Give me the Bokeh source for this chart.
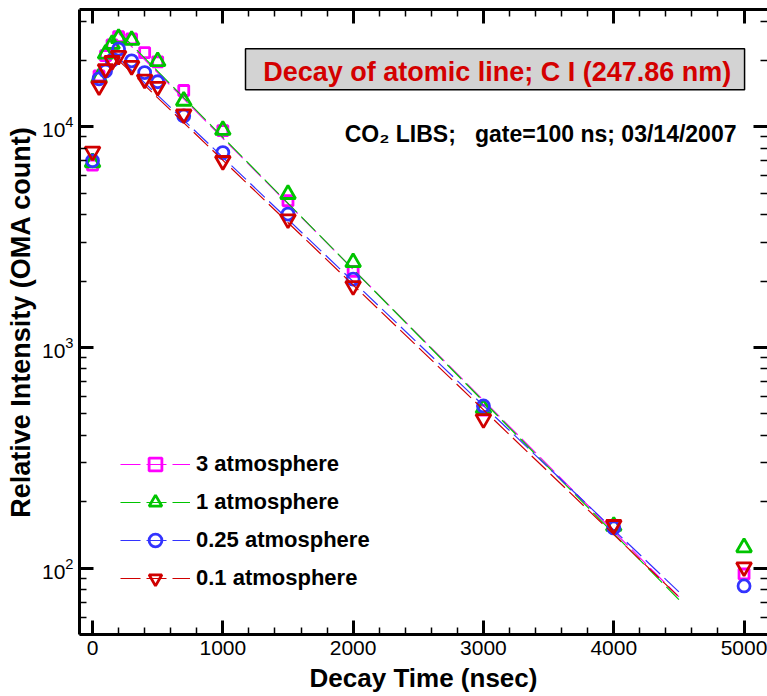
from bokeh.plotting import figure
from bokeh.models import (LinearAxis, LogAxis, SingleIntervalTicker, LogTicker, Range1d,
                          Legend, LegendItem, Label, BoxAnnotation, CustomJSTickFormatter)
from bokeh.embed import file_html
from bokeh.resources import INLINE

# ---------------- data ----------------
t_3atm = [0, 50, 100, 150, 200, 300, 400, 500, 700, 1000, 1500, 2000, 3000, 4000, 5000]
i_3atm = [6700, 17000, 21000, 23500, 25600, 25000, 21700, 19700, 14600, 9600, 4620, 2210, 520, 155, 94]

t_1atm = [0, 50, 100, 150, 200, 300, 500, 700, 1000, 1500, 2000, 3000, 4000, 5000]
i_1atm = [6890, 16700, 21400, 23700, 25200, 24700, 19800, 13100, 9660, 4950, 2430, 530, 155, 124]

t_025atm = [0, 50, 100, 150, 200, 300, 400, 500, 700, 1000, 1500, 2000, 3000, 4000, 5000]
i_025atm = [7010, 16500, 17900, 20000, 22500, 19900, 17600, 16000, 11200, 7640, 4020, 2040, 543, 152, 83]

t_01atm = [0, 50, 100, 150, 200, 300, 400, 500, 700, 1000, 1500, 2000, 3000, 4000, 5000]
i_01atm = [7730, 15300, 18300, 19900, 21000, 18900, 16400, 15200, 11400, 7010, 3810, 1900, 474, 157, 101]

# exponential fits (end points)
t_fit = [200, 4500]
fit_3atm = [26500, 74]
fit_1atm = [27000, 72]
fit_025atm = [20500, 78]
fit_01atm = [20000, 74]

labels = ["3 atmosphere", "1 atmosphere", "0.25 atmosphere", "0.1 atmosphere"]
colors = ["#ff00ff", "#00c400", "#3333ff", "#d00000"]
markers = ["square", "triangle", "circle", "inverted_triangle"]
msizes = [10, 15, 12, 15]

FONT = "Liberation Sans"

p = figure(width=767, height=696, output_backend="svg", toolbar_location=None,
           x_range=Range1d(-100, 5180), y_range=Range1d(50, 34000), y_axis_type="log",
           min_border_left=79, min_border_right=0, min_border_top=9, min_border_bottom=62)
p.outline_line_color = None
p.xgrid.visible = False
p.ygrid.visible = False
p.background_fill_color = "white"
p.border_fill_color = "white"

def style_axis(ax):
    ax.axis_line_width = 3
    ax.axis_line_color = "black"
    ax.major_tick_in = 14
    ax.major_tick_out = 0
    ax.minor_tick_in = 7
    ax.minor_tick_out = 0
    ax.major_tick_line_width = 3
    ax.minor_tick_line_width = 1.5
    ax.major_tick_line_color = "black"
    ax.minor_tick_line_color = "black"

def ticks_only(ax):
    ax.formatter = CustomJSTickFormatter(code="return ' ';")
    ax.major_label_text_font_size = "1px"
    ax.major_label_text_alpha = 0
    ax.major_label_standoff = 0

# bottom axis
xa = p.xaxis[0]
xa.ticker = SingleIntervalTicker(interval=1000, num_minor_ticks=5)
style_axis(xa)
xa.major_label_text_font = FONT
xa.major_label_text_font_size = "21px"
xa.major_label_text_color = "black"
xa.major_label_standoff = 6
xa.axis_label = "Decay Time (nsec)"
xa.axis_label_text_font = FONT
xa.axis_label_text_font_size = "26px"
xa.axis_label_text_font_style = "bold"
xa.axis_label_text_color = "black"
xa.axis_label_standoff = 5

# left axis
ya = p.yaxis[0]
ya.ticker = LogTicker(num_minor_ticks=10)
style_axis(ya)
ya.major_label_text_font = FONT
ya.major_label_text_font_size = "21px"
ya.major_label_text_color = "black"
ya.major_label_standoff = 6
ya.axis_label = "Relative Intensity (OMA count)"
ya.axis_label_text_font = FONT
ya.axis_label_text_font_size = "27px"
ya.axis_label_text_font_style = "bold"
ya.axis_label_text_color = "black"
ya.axis_label_standoff = 3

# top axis (ticks only)
top = LinearAxis(ticker=SingleIntervalTicker(interval=1000, num_minor_ticks=5))
style_axis(top)
ticks_only(top)
p.add_layout(top, "above")

# right axis (ticks only, line off-canvas)
right = LogAxis(ticker=LogTicker(num_minor_ticks=10))
style_axis(right)
right.axis_line_color = None
ticks_only(right)
p.add_layout(right, "right")

# title box
box = BoxAnnotation(left=1174, right=5004, top=22580, bottom=14720,
                    fill_color="#d3d3d3", fill_alpha=1.0,
                    line_color="black", line_alpha=1.0, line_width=1.5)
p.add_layout(box)
p.add_layout(Label(x=3106, y=17700, text="Decay of atomic line; C I (247.86 nm)",
                   text_align="center", text_baseline="alphabetic", text_color="#d40000",
                   text_font=FONT, text_font_size="27px", text_font_style="bold"))
p.add_layout(Label(x=1935, y=9300, text="CO\u2082 LIBS;\u00a0\u00a0\u00a0gate=100 ns; 03/14/2007",
                   text_align="left", text_baseline="alphabetic", text_color="black",
                   text_font=FONT, text_font_size="23px", text_font_style="bold"))

series = [(t_3atm, i_3atm, fit_3atm), (t_1atm, i_1atm, fit_1atm),
          (t_025atm, i_025atm, fit_025atm), (t_01atm, i_01atm, fit_01atm)]
items = []
for (tx, iy, fy), lab, col, mk, ms in zip(series, labels, colors, markers, msizes):
    lr = p.line(t_fit, fy, line_color=col, line_width=1.2, line_dash="20 6")
    sr = p.scatter(tx, iy, marker=mk, size=ms, line_color=col, line_width=2.8, fill_color=None)
    items.append(LegendItem(label=lab, renderers=[lr, sr]))

legend = Legend(items=items, location=(41, 40), orientation="vertical",
                border_line_color=None, background_fill_alpha=0, padding=0, margin=0,
                glyph_width=70, glyph_height=32, label_height=32, spacing=6,
                label_standoff=6, label_text_font=FONT, label_text_font_size="22px",
                label_text_font_style="bold", label_text_color="black")
p.add_layout(legend, "center")

open("out.html", "w").write(file_html(p, INLINE))
